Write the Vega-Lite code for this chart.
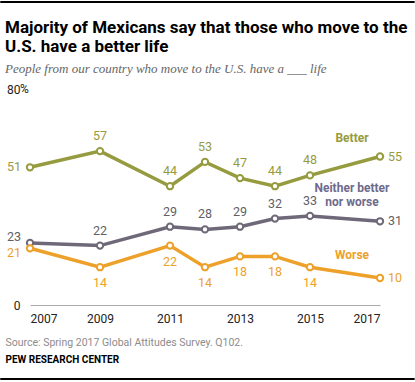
{
  "$schema": "https://vega.github.io/schema/vega-lite/v6.json",
  "width": 350,
  "height": 216,
  "autosize": {"type": "none"},
  "padding": {"left": 30, "top": 89, "right": 35, "bottom": 77},
  "background": "white",
  "config": {"view": {"stroke": null}, "font": "Roboto"},
  "title": {
    "text": ["Majority of Mexicans say that those who move to the", "U.S. have a better life"],
    "subtitle": "People from our country who move to the U.S. have a ___ life",
    "anchor": "start",
    "frame": "group",
    "dx": -25,
    "font": "Roboto",
    "fontSize": 17,
    "fontWeight": "bold",
    "color": "#000",
    "lineHeight": 19,
    "subtitleFont": "Liberation Serif",
    "subtitleFontStyle": "italic",
    "subtitleFontSize": 13,
    "subtitleColor": "#666",
    "subtitlePadding": 7,
    "offset": -76
  },
  "data": {
    "values": [
      {"series": "Better", "year": 2007, "value": 51},
      {"series": "Better", "year": 2009, "value": 57},
      {"series": "Better", "year": 2011, "value": 44},
      {"series": "Better", "year": 2012, "value": 53},
      {"series": "Better", "year": 2013, "value": 47},
      {"series": "Better", "year": 2014, "value": 44},
      {"series": "Better", "year": 2015, "value": 48},
      {"series": "Better", "year": 2017, "value": 55},
      {"series": "Neither", "year": 2007, "value": 23},
      {"series": "Neither", "year": 2009, "value": 22},
      {"series": "Neither", "year": 2011, "value": 29},
      {"series": "Neither", "year": 2012, "value": 28},
      {"series": "Neither", "year": 2013, "value": 29},
      {"series": "Neither", "year": 2014, "value": 32},
      {"series": "Neither", "year": 2015, "value": 33},
      {"series": "Neither", "year": 2017, "value": 31},
      {"series": "Worse", "year": 2007, "value": 21},
      {"series": "Worse", "year": 2009, "value": 14},
      {"series": "Worse", "year": 2011, "value": 22},
      {"series": "Worse", "year": 2012, "value": 14},
      {"series": "Worse", "year": 2013, "value": 18},
      {"series": "Worse", "year": 2014, "value": 18},
      {"series": "Worse", "year": 2015, "value": 14},
      {"series": "Worse", "year": 2017, "value": 10}
    ]
  },
  "encoding": {
    "x": {
      "field": "year", "type": "quantitative",
      "scale": {"domain": [2007, 2017], "nice": false, "zero": false},
      "axis": {
        "values": [2007, 2009, 2011, 2013, 2015, 2017],
        "format": "d", "ticks": false, "grid": false,
        "domain": true, "domainColor": "#aaa", "domainWidth": 1,
        "labelFontSize": 12, "labelColor": "#222", "labelPadding": 8, "labelFont": "Roboto",
        "title": "Source: Spring 2017 Global Attitudes Survey. Q102.",
        "titleX": -25, "titleY": 37, "titleAlign": "left", "titleAnchor": "start",
        "titleBaseline": "middle", "titleFontWeight": "normal", "titleFontSize": 10.5,
        "titleColor": "#8c8c8c", "titleFont": "Roboto"
      }
    },
    "y": {
      "field": "value", "type": "quantitative",
      "scale": {"domain": [0, 80], "nice": false},
      "axis": {
        "values": [0, 80], "ticks": false, "grid": false, "domain": false,
        "labelPadding": 10, "labelFontSize": 12, "labelColor": "#222", "labelFont": "Roboto",
        "title": "PEW RESEARCH CENTER", "titleAngle": 0, "titleX": -25, "titleY": 270,
        "titleAlign": "left", "titleBaseline": "middle", "titleFontWeight": "bold",
        "titleFontSize": 10, "titleColor": "#000", "titleFont": "Roboto"
      }
    },
    "color": {
      "field": "series", "type": "nominal",
      "scale": {"domain": ["Better", "Neither", "Worse"], "range": ["#959B3E", "#6E6879", "#EDA12A"]},
      "legend": null
    }
  },
  "layer": [
    {
      "transform": [{"filter": "datum.year == 2007 && datum.series == 'Better'"}],
      "mark": {"type": "rule", "strokeWidth": 2, "clip": false},
      "encoding": {"x": {"datum": 2006.15}, "x2": {"datum": 2017.99}, "y": {"datum": 112.2}, "color": {"value": "#000"}}
    },
    {
      "transform": [{"filter": "datum.year == 2007 && datum.series == 'Better'"}],
      "mark": {"type": "rule", "strokeWidth": 2, "clip": false},
      "encoding": {"x": {"datum": 2006.15}, "x2": {"datum": 2017.99}, "y": {"datum": -27.4}, "color": {"value": "#000"}}
    },
    {"mark": {"type": "line", "strokeWidth": 3.5}},
    {"mark": {"type": "point", "filled": false, "fill": "white", "size": 40, "strokeWidth": 2, "opacity": 1}},
    {
      "transform": [{"filter": "datum.series != 'Worse' && datum.year > 2007 && datum.year < 2017"}],
      "mark": {"type": "text", "dy": -15, "fontSize": 12.5},
      "encoding": {
        "text": {"field": "value", "type": "quantitative"},
        "color": {"condition": {"test": "datum.series == 'Neither'", "value": "#5f5f66"}, "field": "series", "type": "nominal"}
      }
    },
    {
      "transform": [{"filter": "datum.series == 'Worse' && datum.year > 2007 && datum.year < 2017"}],
      "mark": {"type": "text", "dy": 16, "fontSize": 12.5},
      "encoding": {"text": {"field": "value", "type": "quantitative"}}
    },
    {
      "transform": [{"filter": "datum.year == 2017"}],
      "mark": {"type": "text", "align": "left", "dx": 8, "fontSize": 12.5},
      "encoding": {
        "text": {"field": "value", "type": "quantitative"},
        "color": {"condition": {"test": "datum.series == 'Neither'", "value": "#5f5f66"}, "field": "series", "type": "nominal"}
      }
    },
    {
      "transform": [{"filter": "datum.year == 2007 && datum.series == 'Better'"}],
      "mark": {"type": "text", "align": "right", "dx": -9, "fontSize": 12.5},
      "encoding": {"text": {"field": "value", "type": "quantitative"}}
    },
    {
      "transform": [{"filter": "datum.year == 2007 && datum.series == 'Neither'"}],
      "mark": {"type": "text", "align": "right", "dx": -9, "dy": -6, "fontSize": 12.5},
      "encoding": {"text": {"field": "value", "type": "quantitative"}, "color": {"value": "#5f5f66"}}
    },
    {
      "transform": [{"filter": "datum.year == 2007 && datum.series == 'Worse'"}],
      "mark": {"type": "text", "align": "right", "dx": -9, "dy": 5, "fontSize": 12.5},
      "encoding": {"text": {"field": "value", "type": "quantitative"}}
    },
    {
      "transform": [{"filter": "datum.year == 2007 && datum.series == 'Better'"}],
      "mark": {"type": "text", "align": "left", "dx": -10, "fontSize": 12, "font": "Roboto", "text": "%"},
      "encoding": {"x": {"datum": 2007}, "y": {"datum": 80}, "color": {"value": "#222"}}
    },
    {
      "transform": [{"filter": "datum.year == 2017 && datum.series == 'Better'"}],
      "mark": {"type": "text", "fontSize": 12, "fontWeight": "bold", "font": "Roboto", "text": "Better"},
      "encoding": {"x": {"datum": 2016.2}, "y": {"datum": 62}, "color": {"value": "#959B3E"}}
    },
    {
      "transform": [{"filter": "datum.year == 2017 && datum.series == 'Neither'"}],
      "mark": {"type": "text", "fontSize": 12, "fontWeight": "bold", "font": "Roboto", "text": "Neither better", "dy": -7},
      "encoding": {"x": {"datum": 2016.2}, "y": {"datum": 40.7}, "color": {"value": "#6E6A8C"}}
    },
    {
      "transform": [{"filter": "datum.year == 2017 && datum.series == 'Neither'"}],
      "mark": {"type": "text", "fontSize": 12, "fontWeight": "bold", "font": "Roboto", "text": "nor worse", "dy": 7},
      "encoding": {"x": {"datum": 2016.2}, "y": {"datum": 40.7}, "color": {"value": "#6E6A8C"}}
    },
    {
      "transform": [{"filter": "datum.year == 2017 && datum.series == 'Worse'"}],
      "mark": {"type": "text", "fontSize": 12, "fontWeight": "bold", "font": "Roboto", "text": "Worse"},
      "encoding": {"x": {"datum": 2016.2}, "y": {"datum": 18.5}, "color": {"value": "#EDA12A"}}
    }
  ]
}
